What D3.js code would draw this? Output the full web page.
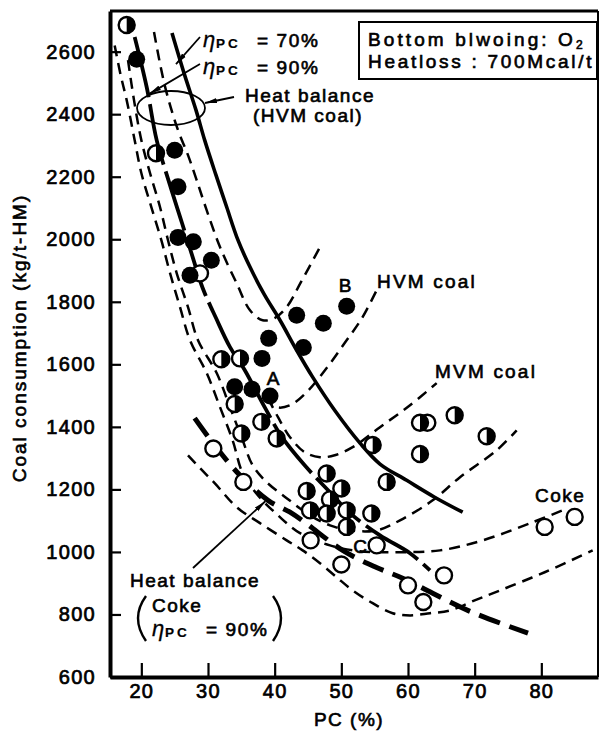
<!DOCTYPE html>
<html><head><meta charset="utf-8">
<script src="https://cdn.jsdelivr.net/npm/d3@7"></script>
<style>
html,body{margin:0;padding:0;background:#fff;}
svg{display:block;}
text{font-family:'Liberation Sans',Arial,Helvetica,sans-serif;fill:#000;}
</style></head><body>
<svg id="c" width="602" height="731"></svg>
<script>
// ---- data ----
const xTicks = [20, 30, 40, 50, 60, 70, 80];
const yTicks = [600, 800, 1000, 1200, 1400, 1600, 1800, 2000, 2200, 2400, 2600];

const hvmCoal = [[19.3,2576],[25.0,2285],[25.5,2168],[25.5,2006],[27.8,1992],[27.3,1885],[30.5,1933],
  [43.3,1757],[47.3,1731],[50.8,1786],[39.1,1683],[44.3,1654],[38.1,1619],[34.0,1528],[36.6,1520],[39.3,1499]];
const mvmCoal = [[17.8,2685],[22.2,2275],[32.0,1616],[34.8,1619],[34.0,1473],[38.0,1416],[35.0,1379],[40.3,1363],
  [47.8,1251],[44.8,1195],[50.0,1203],[48.3,1168],[45.3,1133],[47.8,1123],[50.8,1133],[50.8,1080],[54.5,1123],
  [56.8,1224],[54.7,1342],[61.8,1413],[67.0,1437],[71.8,1370],[61.8,1313]];
const coke = [[30.8,1331],[35.3,1224],[45.4,1037],[50.0,960],[55.3,1021],[60.0,893],[62.3,840],[65.4,925],[80.5,1080],[85.0,1112]];
const partlyHidden = [[28.8,1891],[62.9,1413]];

const eta70HVM = [[24.6,2660],[26.5,2525],[28.2,2413],[29.5,2317],[31.2,2205],[32.8,2103],[34.5,1997],[36.3,1911],
  [38.5,1821],[40.8,1741],[43.3,1645],[45.7,1559],[49.0,1453],[52.8,1348],[55.8,1281],[59.8,1229],[64.0,1175],[68.2,1127]];
const eta90HVM = [[19.0,2647],[20.8,2487],[22.3,2317],[24.3,2173],[26.1,2052],[27.7,1943],[29.2,1844],[31.2,1748],
  [33.3,1655],[35.5,1582],[38.5,1463],[41.1,1367],[44.5,1277],[48.3,1191],[51.3,1124],[55.8,1053],[60.3,996],[63.3,941]];
const heatCoke90 = [[28.0,1428],[31.0,1341],[34.8,1245],[39.0,1165],[42.3,1127],[44.5,1095],[50.2,1005],[55.2,951],
  [59.2,916],[63.7,868],[69.3,810],[78.0,740]];

const hvmUpper = [[21.9,2663],[23.5,2493],[25.5,2349],[27.0,2269],[28.3,2189],[29.8,2093],[31.8,1975],[34.3,1859],
  [36.3,1773],[38.2,1741],[40.0,1748],[41.8,1783],[44.0,1865],[46.8,1975]];
const hvmLower = [[38.5,1495],[40.3,1463],[42.3,1469],[44.8,1511],[47.8,1588],[50.5,1668],[53.1,1748],[55.3,1837]];
const mvmUpper = [[39.0,1492],[40.5,1431],[42.3,1367],[44.5,1319],[46.8,1303],[49.0,1309],[51.7,1335],[55.8,1399],[60.3,1469],[64.3,1540]];
const mvmLower = [[18.0,2573],[18.9,2445],[20.0,2317],[21.3,2212],[22.8,2103],[24.0,1997],[25.3,1892],[27.0,1783],
  [28.5,1677],[31.3,1572],[33.3,1463],[35.2,1357],[36.7,1277],[38.8,1223],[41.8,1172],[45.3,1117],[48.3,1085],
  [51.3,1069],[55.3,1069],[58.8,1101],[63.7,1165],[67.8,1239],[73.3,1325],[76.3,1389]];
const cokeUpper = [[16.0,2620],[16.9,2525],[17.8,2445],[19.0,2317],[20.0,2212],[21.5,2103],[23.0,1997],[24.3,1892],
  [25.8,1783],[27.3,1677],[29.8,1572],[31.8,1463],[33.7,1357],[35.2,1252],[37.5,1181],[40.5,1117],[43.8,1060],
  [48.3,1021],[52.8,1002],[58.8,999],[64.8,1005],[71.2,1037],[78.7,1095],[83.2,1133]];
const cokeLower = [[27.0,1309],[28.8,1268],[31.0,1220],[34.3,1143],[37.8,1092],[41.8,1037],[44.2,1005],[46.8,964],
  [49.3,919],[51.7,877],[54.7,836],[57.7,804],[60.3,797],[63.3,804],[66.3,813],[70.0,845],[73.8,877],[80.5,935],[87.7,1005]];

// ---- drawing ----
const svg = d3.select('#c');
const x = d3.scaleLinear().domain([15.3, 88.5]).range([110, 598]);
const y = d3.scaleLinear().domain([600, 2730]).range([677, 11]);

const defs = svg.append('defs');
defs.append('marker').attr('id','arr').attr('viewBox','0 0 12 6').attr('refX',12).attr('refY',3)
  .attr('markerWidth',12).attr('markerHeight',6).attr('markerUnits','userSpaceOnUse').attr('orient','auto')
  .append('path').attr('d','M0,0.5 L12,3 L0,5.5 Z').attr('fill','#000');

const line = d3.line().x(d => x(d[0])).y(d => y(d[1])).curve(d3.curveCatmullRom.alpha(0.5));

// frame
svg.append('line').attr('x1',110).attr('x2',598).attr('y1',y(2730)).attr('y2',y(2730)).attr('stroke','#000').attr('stroke-width',3);
svg.append('line').attr('x1',598).attr('x2',598).attr('y1',y(2730)).attr('y2',y(600)).attr('stroke','#000').attr('stroke-width',2);

// axes
const yAxis = svg.append('g').attr('transform','translate(110,0)')
  .call(d3.axisLeft(y).tickValues(yTicks).tickFormat(d3.format('d')).tickSizeInner(-11).tickSizeOuter(0).tickPadding(14));
const xAxis = svg.append('g').attr('transform','translate(0,677)')
  .call(d3.axisBottom(x).tickValues(xTicks).tickFormat(d3.format('d')).tickSizeInner(-14).tickSizeOuter(0).tickPadding(7));
[yAxis, xAxis].forEach(a => {
  a.select('.domain').attr('stroke','#000').attr('stroke-width',4);
  a.selectAll('.tick line').attr('stroke','#000').attr('stroke-width',2.2);
  a.selectAll('.tick text').attr('font-size',20).attr('letter-spacing','1.3px')
    .attr('font-family',"'Liberation Sans',Arial,sans-serif").attr('fill','#000')
    .attr('stroke','#000').attr('stroke-width',0.7);
});

// dashed envelope curves
[hvmUpper, hvmLower, mvmUpper, mvmLower, cokeUpper, cokeLower].forEach(c => {
  svg.append('path').attr('d', line(c)).attr('fill','none').attr('stroke','#000')
    .attr('stroke-width',2.5).attr('stroke-dasharray','11,7');
});
// heat balance lines
svg.append('path').attr('d', line(eta70HVM)).attr('fill','none').attr('stroke','#000').attr('stroke-width',3.6);
svg.append('path').attr('d', line(eta90HVM)).attr('fill','none').attr('stroke','#000').attr('stroke-width',3.8)
  .attr('stroke-dasharray','62,7');
svg.append('path').attr('d', line(heatCoke90)).attr('fill','none').attr('stroke','#000').attr('stroke-width',5)
  .attr('stroke-dasharray','22,10');

// points
const R = 8;
function openPts(data){
  svg.append('g').selectAll('circle').data(data).join('circle')
    .attr('cx', d => x(d[0])).attr('cy', d => y(d[1])).attr('r', R)
    .attr('fill','#fff').attr('stroke','#000').attr('stroke-width',2.4);
}
openPts(partlyHidden);
openPts(coke);
const hg = svg.append('g').selectAll('g').data(mvmCoal).join('g')
  .attr('transform', d => `translate(${x(d[0])},${y(d[1])})`);
hg.append('circle').attr('r',R).attr('fill','#fff').attr('stroke','#000').attr('stroke-width',2.4);
hg.append('path').attr('d',`M0,${-R} A${R},${R} 0 0 1 0,${R} Z`).attr('fill','#000');
svg.append('g').selectAll('circle').data(hvmCoal).join('circle')
  .attr('cx', d => x(d[0])).attr('cy', d => y(d[1])).attr('r', R+0.5).attr('fill','#000');

// text helpers
function txt(s, px, py, o = {}) {
  const t = svg.append('text').attr('x',px).attr('y',py).text(s)
    .attr('font-size', o.size || 19).attr('letter-spacing', (o.ls != null ? o.ls : 1.5) + 'px')
    .attr('stroke','#000').attr('stroke-width', o.sw != null ? o.sw : 0.65);
  if (o.anchor) t.attr('text-anchor', o.anchor);
  if (o.family) t.attr('font-family', o.family);
  if (o.style) t.attr('font-style', o.style);
  if (o.weight) t.attr('font-weight', o.weight);
  return t;
}
function eta(px, py, rest) {
  txt('η', px, py, {size:22, family:"'Liberation Serif',serif", style:'italic', ls:0, sw:0.3});
  txt('PC', px + 13, py + 1, {size:13.5, weight:'bold', ls:3, sw:0.2});
  txt(rest, px + 54, py, {size:19, ls:1.6});
}

// legend box
svg.append('rect').attr('x',359).attr('y',22).attr('width',238).attr('height',57)
  .attr('fill','#fff').attr('stroke','#000').attr('stroke-width',2);
const l1 = txt('Bottom blwoing: O', 368, 46, {size:19, ls:3.1});
l1.append('tspan').text('2').attr('font-size',12).attr('dy',3).attr('letter-spacing','0px');
txt('Heatloss : 700Mcal/t', 368, 68, {size:19, ls:2.7});

// eta annotations
eta(203, 47, '= 70%');
eta(203, 74, '= 90%');
svg.append('line').attr('x1',200).attr('y1',37).attr('x2',x(24.6)+4).attr('y2',y(2560)).attr('stroke','#000').attr('stroke-width',1.8).attr('marker-end','url(#arr)');
svg.append('line').attr('x1',200).attr('y1',64).attr('x2',x(20.9)+2).attr('y2',y(2465)).attr('stroke','#000').attr('stroke-width',1.8).attr('marker-end','url(#arr)');

// heat balance HVM ellipse + label
svg.append('ellipse').attr('cx',171).attr('cy',108).attr('rx',34).attr('ry',17)
  .attr('fill','none').attr('stroke','#000').attr('stroke-width',1.8);
svg.append('line').attr('x1',234).attr('y1',97).attr('x2',205).attr('y2',103).attr('stroke','#000').attr('stroke-width',1.8).attr('marker-end','url(#arr)');
txt('Heat balance', 245, 102);
txt('(HVM coal)', 253, 122);

// curve labels
txt('HVM coal', 377, 288, {ls:2.2});
txt('MVM coal', 435, 378, {ls:2.2});
txt('Coke', 535, 502, {ls:1.5});
txt('A', 273, 385, {anchor:'middle', ls:0});
txt('B', 345, 292, {anchor:'middle', ls:0});
txt('C', 360, 553, {anchor:'middle', ls:0});

// heat balance coke label
txt('Heat balance', 130, 587);
txt('Coke', 152, 612);
eta(152, 636, '= 90%');
svg.append('path').attr('d','M146,596 Q130,618 146,641').attr('fill','none').attr('stroke','#000').attr('stroke-width',2.4);
svg.append('path').attr('d','M273,596 Q289,618 273,641').attr('fill','none').attr('stroke','#000').attr('stroke-width',2.4);
svg.append('line').attr('x1',193).attr('y1',568).attr('x2',x(38.6)).attr('y2',y(1162)).attr('stroke','#000').attr('stroke-width',1.8).attr('marker-end','url(#arr)');

// axis titles
txt('PC (%)', 349, 726, {anchor:'middle', ls:1.5});
txt('Coal consumption (kg/t-HM)', 0, 0, {anchor:'middle', ls:2})
  .attr('transform','translate(26,338) rotate(-90)');
</script>
</body></html>
